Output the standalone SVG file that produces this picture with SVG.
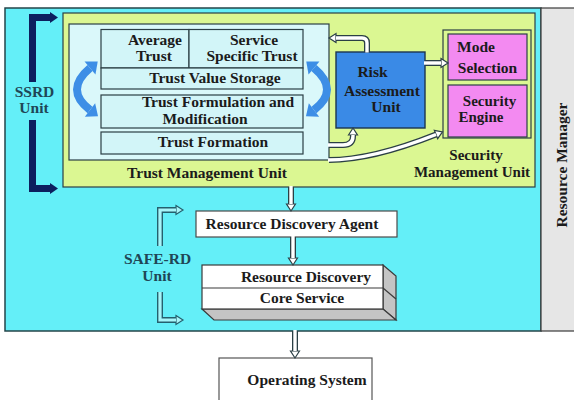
<svg xmlns="http://www.w3.org/2000/svg" width="574" height="400" viewBox="0 0 574 400">
  <style>
    .t { font-family: "Liberation Serif", "Times New Roman", serif; font-weight: bold; font-size: 15.5px; fill: #1b1b1b; text-anchor: middle; }
    .tight { font-size: 15px; }
    .unit { fill: #1f4656; }
    .box { stroke: #2b3f45; stroke-width: 1.2; }
    .cell { fill: #d2f5f8; stroke: #2b3f45; stroke-width: 1.2; }
    .pipe-o { fill: none; stroke: #2b3f45; stroke-width: 6; }
    .pipe-i { fill: none; stroke: #ffffff; stroke-width: 3.4; }
    .bend-o { fill: none; stroke: #24606e; stroke-width: 6; }
    .bend-i { fill: none; stroke: #a8f4f8; stroke-width: 3.2; }
    .curl { fill: none; stroke: #3d8ee6; stroke-width: 8; }
    .ssrd { fill: none; stroke: #0c1f5e; stroke-width: 7; }
  </style>
  <defs>
    <marker id="pipeHead" markerUnits="userSpaceOnUse" markerWidth="12" markerHeight="12" viewBox="-1 -6 10 12" refX="0" refY="0" orient="auto">
      <path d="M0,-4.5 L7,0 L0,4.5 z" fill="#ffffff" stroke="#2b3f45" stroke-width="1.2"/>
    </marker>
    <marker id="bendHead" markerUnits="userSpaceOnUse" markerWidth="12" markerHeight="12" viewBox="-1 -6 10 12" refX="0" refY="0" orient="auto">
      <path d="M0,-4.5 L7,0 L0,4.5 z" fill="#a8f4f8" stroke="#24606e" stroke-width="1.2"/>
    </marker>
    <marker id="curlHead" markerUnits="userSpaceOnUse" markerWidth="14" markerHeight="18" viewBox="-1 -8 12 16" refX="0" refY="0" orient="auto-start-reverse">
      <path d="M0,-7.5 L9,0 L0,7.5 z" fill="#3d8ee6"/>
    </marker>
  </defs>

  <!-- background panels -->
  <g id="safe-rd-area">
    <rect x="5" y="8" width="536" height="323" fill="#64eff8" stroke="#24454a" stroke-width="1.5"/>
  </g>
  <g id="resource-manager">
    <rect x="541" y="8" width="35" height="323" fill="#e6e6e6" stroke="#3a3a3a" stroke-width="1.2"/>
    <text class="t" transform="translate(567,165) rotate(-90)">Resource Manager</text>
  </g>

  <!-- trust management / security management area -->
  <g id="trust-management-unit">
    <rect class="box" x="63" y="13" width="472" height="174" fill="#dbf792"/>
    <rect class="box" x="69" y="24" width="260" height="136" fill="#daf8fa"/>
    <text class="t" x="207" y="178">Trust Management Unit</text>
  </g>

  <g id="trust-table">
    <rect class="cell" x="101" y="29.5" width="88" height="38.5"/>
    <rect class="cell" x="189" y="29.5" width="114" height="38.5"/>
    <rect class="cell" x="101" y="68" width="202" height="21"/>
    <rect class="cell" x="101" y="95" width="202" height="33"/>
    <rect class="cell" x="101" y="132" width="202" height="22"/>
    <text class="t" x="155" y="45">Average</text>
    <text class="t" x="154" y="61">Trust</text>
    <text class="t" x="254" y="45">Service</text>
    <text class="t" x="252" y="61">Specific Trust</text>
    <text class="t" x="215" y="83">Trust Value Storage</text>
    <text class="t" x="218" y="107">Trust Formulation and</text>
    <text class="t" x="205" y="124">Modification</text>
    <text class="t" x="213" y="146.5">Trust Formation</text>
  </g>

  <g id="trust-cycle">
    <path class="curl" d="M90,68 Q64,90 90,110" marker-start="url(#curlHead)" marker-end="url(#curlHead)"/>
    <path class="curl" d="M314,68 Q340,90 314,110" marker-start="url(#curlHead)" marker-end="url(#curlHead)"/>
  </g>

  <g id="risk-assessment-unit">
    <rect x="336" y="52" width="89" height="76" fill="#3a8ae6" stroke="#1c3550" stroke-width="1.4"/>
    <text class="t" x="372.5" y="77">Risk</text>
    <text class="t" x="382" y="96">Assessment</text>
    <text class="t" x="386" y="112">Unit</text>
  </g>

  <g id="security-management-unit">
    <rect class="box" x="443" y="30" width="88" height="108" fill="#dbf792" stroke-width="1.6"/>
    <text class="t tight" x="476" y="160">Security</text>
    <text class="t tight" x="472" y="176.5">Management Unit</text>
  </g>

  <g id="mode-selection">
    <rect class="box" x="448" y="34" width="79" height="46" fill="#f38af1"/>
    <text class="t" x="476" y="52">Mode</text>
    <text class="t" x="487.5" y="73">Selection</text>
  </g>

  <g id="security-engine">
    <rect class="box" x="448" y="85" width="79" height="52" fill="#f38af1"/>
    <text class="t tight" x="489.5" y="105.5">Security</text>
    <text class="t tight" x="481" y="122">Engine</text>
  </g>

  <!-- SSRD unit bracket -->
  <g id="ssrd-unit">
    <path class="ssrd" d="M50,17.5 H32.5 V82"/>
    <path class="ssrd" d="M32.5,120 V188.5 H50"/>
    <path d="M50,12 L58,17.5 L50,23 z" fill="#0c1f5e"/>
    <path d="M50,183 L58,188.5 L50,194 z" fill="#0c1f5e"/>
    <text class="t unit" x="34.5" y="97">SSRD</text>
    <text class="t unit" x="34" y="113">Unit</text>
  </g>

  <!-- SAFE-RD unit bracket -->
  <g id="safe-rd-unit">
    <path class="bend-o" d="M160,246 V210 H176" marker-end="url(#bendHead)"/>
    <path class="bend-i" d="M160,246 V210 H176"/>
    <path class="bend-o" d="M160,292 V320 H176" marker-end="url(#bendHead)"/>
    <path class="bend-i" d="M160,292 V320 H176"/>
    <text class="t unit" x="157.5" y="264">SAFE-RD</text>
    <text class="t unit" x="157" y="281">Unit</text>
  </g>

  <g id="resource-discovery-agent">
    <rect x="196" y="211" width="201" height="26" fill="#ffffff" stroke="#4a4a4a" stroke-width="1.2"/>
    <text class="t" x="292" y="229">Resource Discovery Agent</text>
  </g>

  <g id="resource-discovery-core">
    <path d="M383,265 L396,276 L396,320 L383,309 z" fill="#c4c4c4" stroke="#3a3a3a" stroke-width="1.2"/>
    <path d="M202,309 L383,309 L396,320 L214,320 z" fill="#c4c4c4" stroke="#3a3a3a" stroke-width="1.2"/>
    <path d="M383,288 L396,299" stroke="#3a3a3a" stroke-width="1.2"/>
    <rect x="202" y="265" width="181" height="44" fill="#ffffff" stroke="#3a3a3a" stroke-width="1.2"/>
    <line x1="202" y1="288" x2="383" y2="288" stroke="#3a3a3a" stroke-width="1.2"/>
    <text class="t" x="306" y="281.5">Resource Discovery</text>
    <text class="t" x="302" y="303">Core Service</text>
  </g>

  <g id="operating-system">
    <rect x="219" y="358" width="153" height="50" fill="#ffffff" stroke="#555555" stroke-width="1.2"/>
    <text class="t" x="307" y="385">Operating System</text>
  </g>

  <!-- connectors -->
  <g id="connectors">
    <path class="pipe-o" d="M367,52 V43 Q367,38 362,38 H336" marker-end="url(#pipeHead)"/>
    <path class="pipe-i" d="M367,52.5 V43 Q367,38 362,38 H336"/>

    <path class="pipe-o" d="M425,63 H441" marker-end="url(#pipeHead)"/>
    <path class="pipe-i" d="M424,63 H441"/>

    <path class="pipe-o" d="M329,145 H343 Q353,145 353,136 V135" marker-end="url(#pipeHead)"/>
    <path class="pipe-i" d="M328,145 H343 Q353,145 353,136 V135"/>

    <path class="pipe-o" d="M329,160 Q372,160 436,134.5" marker-end="url(#pipeHead)"/>
    <path class="pipe-i" d="M328,160 Q372,160 436,134.5"/>

    <path class="pipe-o" d="M291,187 V204" marker-end="url(#pipeHead)"/>
    <path class="pipe-i" d="M291,186 V204"/>

    <path class="pipe-o" d="M293,237 V258" marker-end="url(#pipeHead)"/>
    <path class="pipe-i" d="M293,236 V258"/>

    <path class="pipe-o" d="M295,331 V351" marker-end="url(#pipeHead)"/>
    <path class="pipe-i" d="M295,330 V351"/>
  </g>
</svg>
